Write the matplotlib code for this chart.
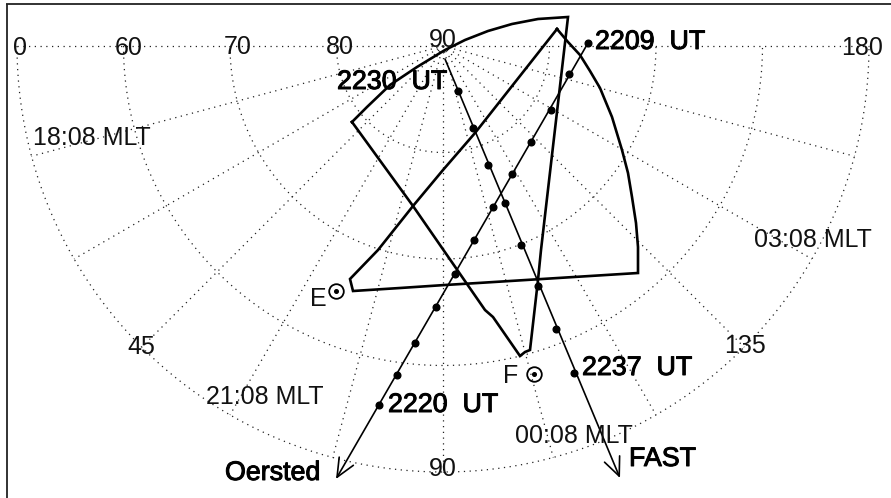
import numpy as np
import matplotlib
matplotlib.use("Agg")
import matplotlib.pyplot as plt
import matplotlib.patheffects as pe

plt.rcParams['font.family'] = ['Liberation Sans', 'DejaVu Sans']

# Grid, in degrees from the pole; the plot scale is 10.65 px per degree
POLE = (443, 46)
SCALE = 10.65
grid_colat = [10, 20, 30, 40]
spoke_angles = [15, 30, 45, 60, 75, 90, 105, 120, 135, 150, 165]

# Footprint outlines (plot coordinates)
outline_a_x = [352, 367, 390, 417, 445, 465, 488, 512, 538, 568, 541, 538, 530, 525, 520, 493, 485, 467, 413, 352]
outline_a_y = [122, 107, 85, 67, 50, 40, 31, 24, 19, 17, 250, 280, 350, 352, 356, 317, 310, 284, 206, 122]
outline_b_x = [557, 568, 580, 590, 600, 612, 622, 628, 632, 636, 638, 638, 478, 445, 400, 353, 350, 378, 413, 443, 475, 557]
outline_b_y = [29, 42, 55, 71, 88, 117, 150, 173, 197, 223, 247, 273, 283, 285, 288, 291, 279, 250, 206, 170, 133, 29]

# Satellite tracks (plot coordinates)
oersted_x = [588, 569, 551, 531, 512, 493, 474, 455, 436, 415, 397, 379]
oersted_y = [43, 74, 110, 142, 174, 207, 240, 274, 307, 343, 375, 405]
oersted_tip = (336, 479)
fast_x = [458, 473, 488, 505, 521, 538, 556, 574]
fast_y = [91, 128, 165, 203, 245, 286, 329, 373]
fast_start = (445, 59)
fast_tip = (620, 478)

# Stations
stations = {'E': (336, 291), 'F': (534, 374)}

# Labels
scale_labels = [('0', 20, 48), ('60', 129, 48), ('70', 238, 47), ('80', 340, 47), ('90', 443, 40),
                ('180', 862, 48), ('45', 141, 347), ('135', 745, 346), ('90', 443, 469)]
mlt_labels = [('18:08 MLT', 92, 138), ('03:08 MLT', 813, 240), ('21:08 MLT', 265, 397), ('00:08 MLT', 574, 436)]
bold_labels = [('2230  UT', 337, 82), ('2209  UT', 595, 42), ('2220  UT', 388, 405), ('2237  UT', 582, 368),
               ('Oersted', 225, 473), ('FAST', 629, 459)]
station_labels = [('E', 318, 299), ('F', 511, 376)]

fig = plt.figure(figsize=(8.91, 4.98), dpi=100)
ax = fig.add_axes([0, 0, 1, 1])
ax.set_xlim(0, 891)
ax.set_ylim(498, 0)
ax.axis('off')

dot = dict(color='#222222', lw=0.9, ls=(0, (1, 3.6)), zorder=1)
# outer arcs and spokes
theta = np.radians(np.linspace(0, 180, 361))
for c in grid_colat:
    r = c * SCALE
    ax.plot(POLE[0] - r * np.cos(theta), POLE[1] + r * np.sin(theta), **dot)
ax.plot([POLE[0] - grid_colat[-1] * SCALE, POLE[0] + grid_colat[-1] * SCALE], [POLE[1], POLE[1]], **dot)
for a in spoke_angles:
    t = np.radians(a)
    r = grid_colat[-1] * SCALE
    ax.plot([POLE[0], POLE[0] - r * np.cos(t)], [POLE[1], POLE[1] + r * np.sin(t)], **dot)

# frame: top and left only
ax.plot([6, 891], [4, 4], color='#222222', lw=1.3, solid_capstyle='butt', zorder=5)
ax.plot([6.5, 6.5], [3.5, 498], color='#222222', lw=1.3, solid_capstyle='butt', zorder=5)

# outlines
for xs, ys in [(outline_a_x, outline_a_y), (outline_b_x, outline_b_y)]:
    ax.plot(xs, ys, color='black', lw=1.9, solid_joinstyle='miter', zorder=3)

# tracks
arrow = dict(arrowstyle='->,head_length=0.95,head_width=0.42', color='black', lw=1.2,
             shrinkA=0, shrinkB=0, mutation_scale=14)
ax.annotate('', xy=oersted_tip, xytext=(oersted_x[0], oersted_y[0]), arrowprops=arrow, zorder=3)
ax.annotate('', xy=fast_tip, xytext=fast_start, arrowprops=arrow, zorder=3)
ax.plot(oersted_x, oersted_y, ls='none', marker='o', ms=4.8, color='black', zorder=4)
ax.plot(fast_x, fast_y, ls='none', marker='o', ms=4.8, color='black', zorder=4)

# stations
for x, y in stations.values():
    ax.plot([x], [y], ls='none', marker='o', ms=10.5, mfc='none', mec='black', mew=1.3, zorder=4)
    ax.plot([x], [y], ls='none', marker='o', ms=2.6, color='black', zorder=4)

for s, x, y in scale_labels:
    ax.text(x, y, s, fontsize=18, color='#111111', ha='center', va='center', zorder=6)
for s, x, y in mlt_labels:
    ax.text(x, y, s, fontsize=18, color='#111111', ha='center', va='center', zorder=6)
for s, x, y in station_labels:
    ax.text(x, y, s, fontsize=18, color='#111111', ha='center', va='center', zorder=6)
for s, x, y in bold_labels:
    ax.text(x, y, s, fontsize=19.3, color='black', ha='left', va='center', zorder=6,
            path_effects=[pe.withStroke(linewidth=0.7, foreground='black')])

fig.savefig('out.png', dpi=100)
